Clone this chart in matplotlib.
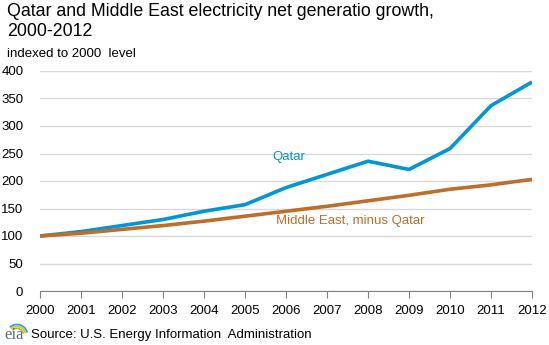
import matplotlib
matplotlib.use("Agg")
import matplotlib.pyplot as plt
from matplotlib.patches import Arc

plt.rcParams['font.family'] = ['Liberation Sans', 'DejaVu Sans']

years = list(range(2000, 2013))
qatar = [100, 108, 119, 130, 145, 157, 188, 212, 236, 221, 259, 337, 380]
middle_east = [100, 105, 112, 119, 127, 136, 145, 154, 164, 174, 185, 193, 203]
y_ticks = [0, 50, 100, 150, 200, 250, 300, 350, 400]

blue = '#0096d7'
brown = '#bd6f2a'

fig = plt.figure(figsize=(5.49, 3.45), dpi=100)
ax = fig.add_axes([40 / 549, 54 / 345, 492 / 549, 220 / 345])

ax.plot(years, qatar, color=blue, lw=2.6, solid_capstyle='butt', zorder=3)
ax.plot(years, middle_east, color=brown, lw=2.6, solid_capstyle='butt', zorder=3)

ax.set_xlim(2000, 2012)
ax.set_ylim(0, 400)
ax.set_yticks(y_ticks)
ax.set_xticks(years)
ax.set_xticklabels([str(y) for y in years])
ax.grid(axis='y', color='#d9d9d9', lw=1)
ax.set_axisbelow(True)
for side in ('top', 'right', 'left'):
    ax.spines[side].set_visible(False)
ax.spines['bottom'].set_color('#808080')
ax.tick_params(axis='y', length=0, pad=12, labelsize=9.5)
ax.tick_params(axis='x', length=5, color='#808080', pad=5, labelsize=9.5)
for lbl in ax.get_yticklabels():
    lbl.set_horizontalalignment('right')

ax.text(2005.66, 243, 'Qatar', color=blue, fontsize=9.5, va='center', ha='left')
ax.text(2005.75, 127, 'Middle East, minus Qatar', color=brown, fontsize=9.5,
        va='center', ha='left')

fig.text(7 / 549, 1 - 3 / 345, 'Qatar and Middle East electricity net generatio growth,\n2000-2012',
         fontsize=12.8, va='top', ha='left', linespacing=1.22)
fig.text(7 / 549, 1 - 54 / 345, 'indexed to 2000  level', fontsize=9.5, va='center', ha='left')

# source line with agency mark
fig.text(4 / 549, 10 / 345, 'eia', family='Liberation Serif', fontsize=12,
         color='#5a6f86', va='center', ha='left')
for r, c in [(0.020, '#9bc23c'), (0.026, '#f2b233'), (0.032, '#2a9fd8')]:
    fig.add_artist(Arc((17 / 549, 10 / 345), r * 1.2, r * 1.9, theta1=20, theta2=120,
                       color=c, lw=1.2, transform=fig.transFigure))
fig.text(31 / 549, 10 / 345, 'Source: U.S. Energy Information  Administration',
         fontsize=9.5, va='center', ha='left')

fig.savefig('out.png', dpi=100)
